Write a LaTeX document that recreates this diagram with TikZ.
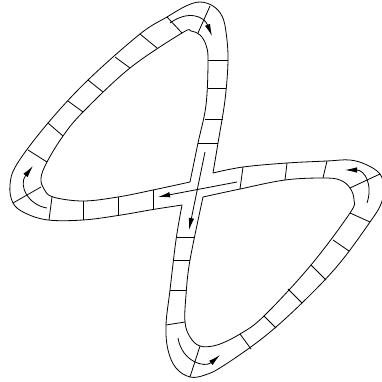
\documentclass[tikz,border=0pt]{standalone}
\usetikzlibrary{arrows.meta}
\begin{document}
\begin{tikzpicture}[x=1pt,y=-1pt,
  edge/.style={line width=0.8pt,line join=round},
  rung/.style={line width=0.8pt},
  flow/.style={line width=0.8pt,-{Latex[length=12pt,width=5.5pt]}}]
\useasboundingbox (0,0) rectangle (381,382);
% corners of the crossing
\coordinate (UL) at (190,182);
\coordinate (UR) at (213,173);
\coordinate (LL) at (182,205);
\coordinate (LR) at (203,197);
% outer boundary, upper-left half
\draw[edge] plot[smooth,tension=0.6] coordinates {(182,205) (153,209.5) (118,215.5) (83,220) (48,220) (25,213) (13,203) (10,185) (17,164) (48,123) (88,80) (140,34) (167,17) (186,6) (200,2) (213,6) (222,16) (226,32) (228,60) (225,100) (218,143) (213,173)};
% outer boundary, lower-right half
\draw[edge] plot[smooth,tension=0.6] coordinates {(213,173) (243,167) (287,163) (327,161) (350,160) (367,165) (380,174) (384,188) (381,204) (370,222) (339,264) (303,302) (264,337) (223,366) (205,375) (190,377) (176,368) (168,350) (166,325) (170,290) (176,240) (182,205)};
% inner boundary of the upper-left loop
\draw[edge] plot[smooth,tension=0.6] coordinates {(190,182) (198,143) (206,105) (208,60) (206,45) (200,35) (191,31) (182,33) (130,68) (83,112) (63,136) (47,162) (41,178) (44,189) (53,197) (83,201) (118,197) (153,190) (190,182)};
% inner boundary of the lower-right loop
\draw[edge] plot[smooth,tension=0.6] coordinates {(203,197) (240,189) (285,180) (323,178) (340,180) (350,188) (354,200) (350,213) (311,265) (264,316) (240,334) (217,345) (200,346) (190,337) (185,322) (186,295) (190,260) (203,197)};
% rungs
\foreach \a/\b in {
  {(208,60)}/{(228,60)}, {(208,88)}/{(226,88)}, {(205,119)}/{(223,119)}, {(198,143)}/{(218,143)},
  {(210,6)}/{(198,33)},
  {(167,17)}/{(182,33)}, {(140,34)}/{(157,48)}, {(115,57)}/{(130,68)}, {(88,80)}/{(103,92)},
  {(68,101)}/{(83,112)}, {(48,123)}/{(63,136)}, {(28,150)}/{(47,162)},
  {(13,203)}/{(41,187)},
  {(52,197)}/{(49,220)}, {(83,201)}/{(83,220)}, {(118,197)}/{(118,215.5)}, {(153,190)}/{(153,209.5)},
  {(243,167)}/{(240,189)}, {(287,163)}/{(285,180)}, {(327,161)}/{(323,178)},
  {(350,188)}/{(380,174)},
  {(350,213)}/{(370,222)}, {(333,240)}/{(349,251)}, {(311,265)}/{(326,280)}, {(288,289)}/{(302,303)},
  {(264,316)}/{(276,328)}, {(240,334)}/{(251,349)},
  {(200,346)}/{(190,377)},
  {(166,325)}/{(185,322)}, {(170,290)}/{(186,290)}, {(173,260)}/{(190,260)}, {(177,237)}/{(195,237)}}
  \draw[rung] \a -- \b;
% flow arrows
\coordinate (va) at (205,152);
\coordinate (vb) at (189,230);
\coordinate (ha) at (237,182);
\coordinate (hb) at (158,197);
\draw[flow] (va) -- (vb);
\draw[flow] (ha) -- (hb);
\draw[flow] (170,23) .. controls (188,10) and (204,16) .. (212,36);
\draw[flow] (47,208) .. controls (28,205) and (18,185) .. (33,166);
\draw[flow] (367,203) .. controls (373,185) and (365,170) .. (345,170);
\draw[flow] (178,338) .. controls (182,362) and (205,368) .. (220,355);
\end{tikzpicture}
\end{document}
